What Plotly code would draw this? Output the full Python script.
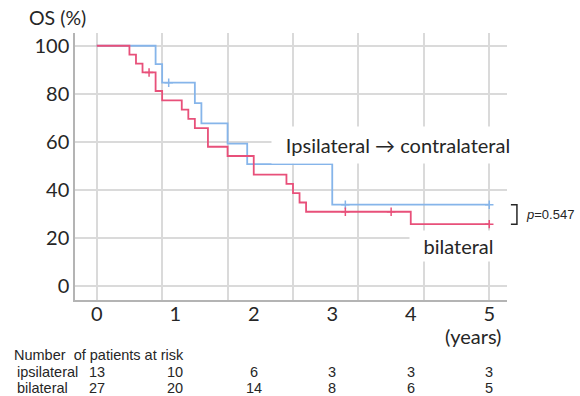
import plotly.graph_objects as go

# ---- data (time in months, survival in %) ----
ipsi_t = [0, 9, 10, 15, 16, 20, 23, 36, 60]
ipsi_s = [100, 92.31, 84.62, 76.15, 67.69, 59.23, 50.77, 33.85, 33.85]
ipsi_cens_t = [11, 38, 60]
ipsi_cens_s = [84.62, 33.85, 33.85]

bil_t = [0, 5, 6, 7, 9, 10, 13, 14, 15, 17, 20, 24, 29, 30, 31, 32, 48, 60]
bil_s = [100, 96.30, 92.59, 88.89, 81.16, 77.29, 73.43, 69.56, 65.70, 57.97,
         54.11, 46.38, 42.51, 38.65, 34.78, 30.92, 25.76, 25.76]
bil_cens_t = [8, 38, 45, 60]
bil_cens_s = [88.89, 30.92, 30.92, 25.76]

year_ticks_m = [0, 12, 24, 36, 48, 60]
year_labels = ["0", "1", "2", "3", "4", "5"]
grid_m = [0, 10, 20, 30, 40, 50, 60]
y_ticks = [0, 20, 40, 60, 80, 100]

risk_ipsi = [13, 10, 6, 3, 3, 3]
risk_bil = [27, 20, 14, 8, 6, 5]
p_text = "<i>p</i>=0.547"

RED = "#E8507A"
BLUE = "#86B5EA"
GRID = "#dadada"
AX = "#b4b4b4"
TXT = "#262626"
XR = [-3.32, 62.71]
YR = [-5.8, 105.3]

fig = go.Figure()
fig.add_trace(go.Scatter(x=ipsi_t, y=ipsi_s, mode="lines", line=dict(color=BLUE, width=1.8, shape="hv"),
                         hoverinfo="skip", showlegend=False))
fig.add_trace(go.Scatter(x=ipsi_cens_t, y=ipsi_cens_s, mode="markers",
                         marker=dict(symbol="cross-thin", size=6, line=dict(color=BLUE, width=1.5)),
                         hoverinfo="skip", showlegend=False))
fig.add_trace(go.Scatter(x=bil_t, y=bil_s, mode="lines", line=dict(color=RED, width=1.8, shape="hv"),
                         hoverinfo="skip", showlegend=False))
fig.add_trace(go.Scatter(x=bil_cens_t, y=bil_cens_s, mode="markers",
                         marker=dict(symbol="cross-thin", size=6, line=dict(color=RED, width=1.5)),
                         hoverinfo="skip", showlegend=False))
# dummy trace for label axis
fig.add_trace(go.Scatter(x=[0], y=[None], xaxis="x2", mode="markers", hoverinfo="skip", showlegend=False))

fig.update_layout(
    width=580, height=396,
    margin=dict(l=75, r=73, t=33, b=96),
    paper_bgcolor="white", plot_bgcolor="white",
    font=dict(family="Lato, Open Sans, sans-serif", color=TXT),
    xaxis=dict(range=XR, tickvals=grid_m, showticklabels=False, ticks="",
               showgrid=True, gridcolor=GRID, gridwidth=1.5, zeroline=False,
               showline=True, linecolor=AX, linewidth=1.5),
    xaxis2=dict(range=XR, overlaying="x", anchor="y", side="bottom",
                tickvals=year_ticks_m, ticktext=year_labels, ticks="",
                showgrid=False, zeroline=False, showline=False,
                tickfont=dict(size=20, color=TXT)),
    yaxis=dict(range=YR, tickvals=y_ticks, ticks="", showgrid=True, gridcolor=GRID, gridwidth=1.5,
               zeroline=False, showline=True, linecolor=AX, linewidth=1.5,
               tickfont=dict(size=20, color=TXT)),
)

def yp(v):
    return (v - YR[0]) / (YR[1] - YR[0])

def A(text, x, y, xref="paper", xanchor="center", **kw):
    d = dict(text=text, xref=xref, yref="paper", x=x, y=y, xanchor=xanchor,
             yanchor="middle", showarrow=False)
    d.update(kw)
    return d

ann = []
ann.append(A("OS (%)", (57 - 75) / 432, (300 - 17) / 267, font=dict(size=19.5)))
ann.append(A("(years)", (473 - 75) / 432, (300 - 336) / 267, font=dict(size=20)))
ann.append(A("Ipsilateral \u2192 contralateral", (398 - 75) / 432, (300 - 145) / 267,
             font=dict(size=20), bgcolor="white", width=250, height=34))
ann.append(A("bilateral", (458 - 75) / 432, (300 - 246) / 267,
             font=dict(size=20), bgcolor="white", width=95, height=28))
ann.append(A(p_text, 1.039, (yp(ipsi_s[-1]) + yp(bil_s[-1])) / 2, xanchor="left",
             font=dict(size=13, family="Liberation Sans, Arial, sans-serif")))

RISK_FONT = dict(size=14.5, family="Liberation Sans Narrow, Arial Narrow, Liberation Sans, sans-serif", color=TXT)
ann.append(A("Number  of patients at risk", (12 - 75) / 432, (300 - 355) / 267, xanchor="left", font=RISK_FONT))
ann.append(A("ipsilateral", (15 - 75) / 432, (300 - 372) / 267, xanchor="left", font=RISK_FONT))
ann.append(A("bilateral", (15 - 75) / 432, (300 - 387.5) / 267, xanchor="left", font=RISK_FONT))
for m, a, b in zip(year_ticks_m, risk_ipsi, risk_bil):
    ann.append(A(str(a), m, (300 - 372) / 267, xref="x", font=RISK_FONT))
    ann.append(A(str(b), m, (300 - 387.5) / 267, xref="x", font=RISK_FONT))
fig.update_layout(annotations=ann)

# p-value bracket
y_top = yp(ipsi_s[-1])
y_bot = yp(bil_s[-1])
x_l = 1.009
x_r = 1.023
fig.add_shape(type="path", xref="paper", yref="paper",
              path=f"M {x_l} {y_top} L {x_r} {y_top} L {x_r} {y_bot} L {x_l} {y_bot}",
              line=dict(color=TXT, width=1.5))

fig.write_html("out.html")
